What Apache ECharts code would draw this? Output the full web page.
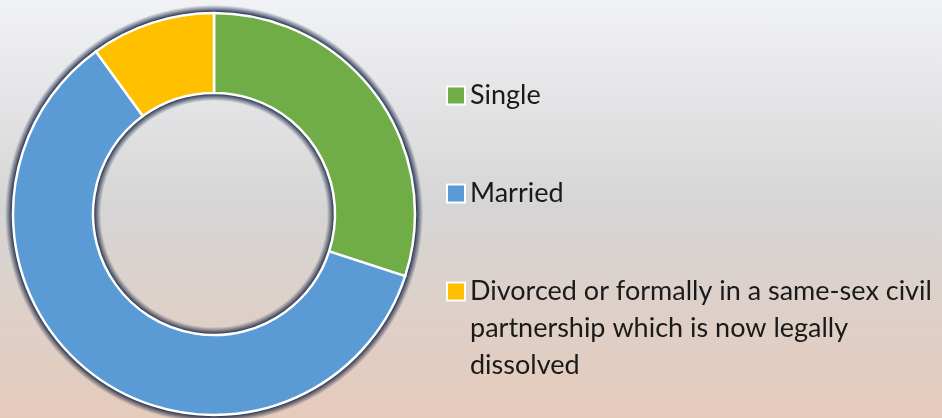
<!DOCTYPE html>
<html>
<head>
<meta charset="utf-8">
<script src="https://cdn.jsdelivr.net/npm/echarts@6/dist/echarts.min.js"></script>
<style>
  html, body { margin: 0; padding: 0; }
  #chart {
    width: 942px;
    height: 418px;
    background: linear-gradient(to bottom, #F1F2F6 0%, #D6D5D5 50%, #E6CBBB 100%);
  }
</style>
</head>
<body>
<div id="chart"></div>
<script>
const categories = [
  "Single",
  "Married",
  "Divorced or formally in a same-sex civil partnership which is now legally dissolved",
];
const shares = [30, 60, 10];
const sliceColors = ["#70AD47", "#5B9BD5", "#FFC000"];

const chart = echarts.init(document.getElementById("chart"), null, { renderer: "canvas" });

const legendText = {
  color: "#1a1a1a",
  fontFamily: "Lato",
  fontSize: 27,
  lineHeight: 37,
};

// one legend per item so each row sits where the reference puts it
const legendTops = [77, 175, 199];
const legends = categories.map((name, i) => ({
  data: [name],
  left: 446,
  top: legendTops[i],
  padding: 0,
  orient: "vertical",
  icon: "rect",
  itemWidth: 18,
  itemHeight: 18,
  itemGap: 0,
  selectedMode: false,
  itemStyle: { borderColor: "#ffffff", borderWidth: 2 },
  // long label wrapped like the reference; two empty lines on top keep the square beside the first line
  formatter: (n) =>
    i === 2
      ? "\n\nDivorced or formally in a same-sex civil\npartnership which is now legally\ndissolved"
      : n,
  textStyle: legendText,
}));

const cx = 214, cy = 214, rIn = 121, rOut = 201;
const haloIn = rIn - 8, haloOut = rOut + 8;

// dark glow around both edges of the ring, faded with a radial gradient
const haloColor = new echarts.graphic.RadialGradient(cx, cy, haloOut, [
  { offset: 0, color: "rgba(20, 35, 65, 0)" },
  { offset: haloIn / haloOut, color: "rgba(20, 35, 65, 0)" },
  { offset: (rIn - 1) / haloOut, color: "rgba(20, 35, 65, 0.9)" },
  { offset: (rOut + 1) / haloOut, color: "rgba(20, 35, 65, 0.9)" },
  { offset: 1, color: "rgba(20, 35, 65, 0)" },
], true);

chart.setOption({
  backgroundColor: "transparent",
  animation: false,
  legend: legends,
  series: [
    {
      name: "Marital status",
      type: "pie",
      z: 3,
      center: [cx, cy],
      radius: [rIn, rOut],
      startAngle: 90,
      clockwise: true,
      avoidLabelOverlap: false,
      label: { show: false },
      labelLine: { show: false },
      itemStyle: { borderColor: "#ffffff", borderWidth: 2.5 },
      data: categories.map((name, i) => ({
        name,
        value: shares[i],
        itemStyle: { color: sliceColors[i] },
      })),
    },
    {
      // halo under the slices
      name: "Marital status halo",
      type: "pie",
      z: 1,
      silent: true,
      center: [cx, cy],
      radius: [haloIn, haloOut],
      startAngle: 90,
      clockwise: true,
      label: { show: false },
      labelLine: { show: false },
      itemStyle: { color: haloColor, borderWidth: 0 },
      data: categories.map((name, i) => ({ name, value: shares[i] })),
    },
  ],
});
</script>
</body>
</html>
